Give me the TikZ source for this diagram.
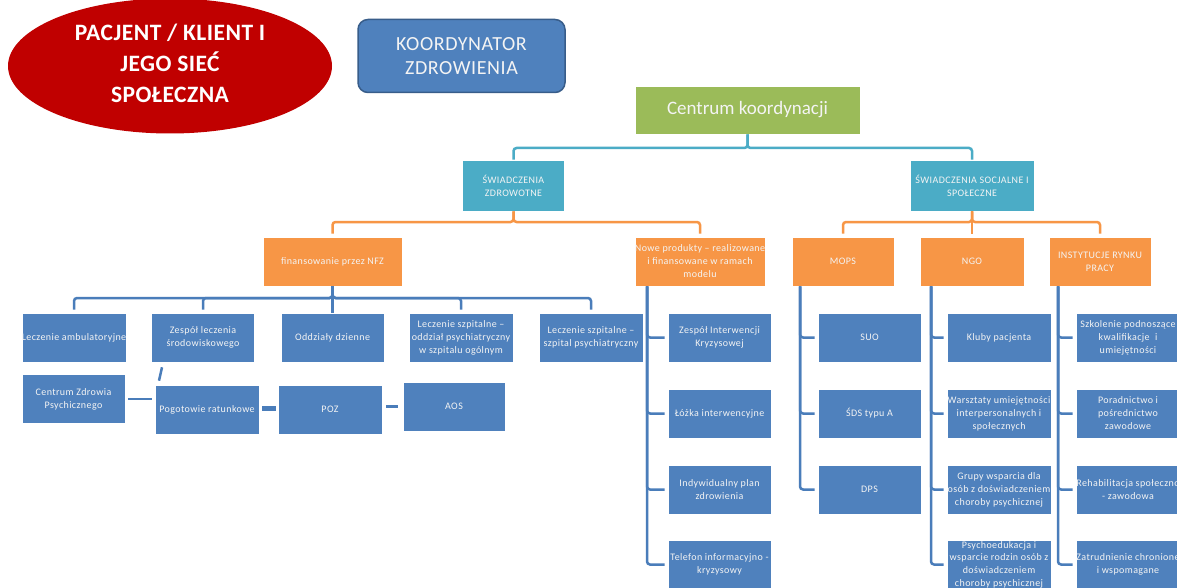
\documentclass[tikz,border=0pt]{standalone}
\usepackage{fontspec}
\setmainfont{Carlito}
\newfontfamily\boxfont[LetterSpace=4]{Carlito}
\newfontfamily\bigfont[LetterSpace=3]{Carlito}
\newfontfamily\elfont[LetterSpace=2]{Carlito}
\usetikzlibrary{shapes.geometric,calc}
\definecolor{bluebox}{HTML}{4F81BD}
\definecolor{blueedge}{HTML}{385D8A}
\definecolor{connblue}{HTML}{4A7DBA}
\definecolor{tealc}{HTML}{4BACC6}
\definecolor{orangec}{HTML}{F79646}
\definecolor{greenc}{HTML}{9BBB59}
\definecolor{redc}{HTML}{C00000}
\definecolor{txt}{HTML}{F4F4F4}
\tikzset{
  cb/.style={draw=white, line width=0.6pt, inner sep=0pt, align=center, text=txt,
    font=\boxfont\fontsize{10}{13}\selectfont},
  blueb/.style={cb, fill=bluebox, minimum width=103pt, minimum height=49pt},
  orangeb/.style={cb, fill=orangec, minimum height=49pt},
  tealb/.style={cb, fill=tealc, minimum height=51pt},
  bconn/.style={draw=connblue, line width=2.5pt, rounded corners=3pt},
  oconn/.style={draw=orangec, line width=2.5pt, rounded corners=3pt},
  tconn/.style={draw=tealc, line width=2.5pt, rounded corners=3pt},
}
\begin{document}
\begin{tikzpicture}[x=1pt,y=-1pt]
\useasboundingbox (0,0) rectangle (1177,588);
\clip (0,0) rectangle (1177,588);
\fill[white] (0,0) rectangle (1177,588);

% ellipse
\node[ellipse, fill=redc, minimum width=324pt, minimum height=135pt, inner sep=0pt] (pac) at (170,66) {};
\node[align=center, text=white, inner sep=0pt, font=\elfont\bfseries\fontsize{23.5}{31}\selectfont]
  (pactext) at (170,63) {PACJENT / KLIENT I\\JEGO SIEĆ\\SPOŁECZNA};

% coordinator
\node[draw=blueedge, line width=1.5pt, fill=bluebox, rounded corners=10pt, minimum width=207pt,
  minimum height=73pt, align=center, text=txt, inner sep=0pt,
  font=\bigfont\fontsize{20}{24}\selectfont] (koord) at (461.5,56) {KOORDYNATOR\\ZDROWIENIA};

% top
\node[cb, fill=greenc, minimum width=225pt, minimum height=48pt,
  font=\fontsize{19}{22}\selectfont] (centrum) at (747.5,110) {Centrum koordynacji};

\node[tealb, minimum width=102pt] (swz) at (513.5,185.5) {ŚWIADCZENIA\\ZDROWOTNE};
\node[tealb, minimum width=124pt] (sws) at (972,185.5) {ŚWIADCZENIA SOCJALNE I\\SPOŁECZNE};

\node[orangeb, minimum width=139pt] (nfz) at (332.5,261.5) {finansowanie przez NFZ};
\node[orangeb, minimum width=130pt] (nowe) at (700,261.5) {Nowe produkty – realizowane\\i finansowane w ramach\\modelu};
\node[orangeb, minimum width=102pt] (mops) at (843,261.5) {MOPS};
\node[orangeb, minimum width=104pt] (ngo) at (972,261.5) {NGO};
\node[orangeb, minimum width=102pt] (inst) at (1100,261.5) {INSTYTUCJE RYNKU\\PRACY};

% row 1
\node[blueb, minimum width=104pt] (lamb) at (74,337.5) {Leczenie ambulatoryjne};
\node[blueb] (zes) at (203,337.5) {Zespół leczenia\\środowiskowego};
\node[blueb] (odd) at (332.5,337.5) {Oddziały dzienne};
\node[blueb, minimum width=104pt] (szo) at (461,337.5) {Leczenie szpitalne –\\oddział psychiatryczny\\w szpitalu ogólnym};
\node[blueb, minimum width=104pt] (szp) at (591,337.5) {Leczenie szpitalne –\\szpital psychiatryczny};

% row 2
\node[blueb] (czp) at (73.5,399) {Centrum Zdrowia\\Psychicznego};
\node[blueb, minimum width=104pt] (pog) at (207,409.5) {Pogotowie ratunkowe};
\node[blueb, minimum width=104pt] (poz) at (330,409.5) {POZ};
\node[blueb, minimum width=102pt] (aos) at (454,406.5) {AOS};

% nowe produkty children
\node[blueb] (zik) at (719.5,337.5) {Zespół Interwencji\\Kryzysowej};
\node[blueb] (lozka) at (719.5,413.5) {Łóżka interwencyjne};
\node[blueb] (ipz) at (719.5,489.5) {Indywidualny plan\\zdrowienia};
\node[blueb] (tel) at (719.5,564.5) {Telefon informacyjno -\\kryzysowy};

% mops children
\node[blueb] (suo) at (869.5,337.5) {SUO};
\node[blueb] (sds) at (869.5,413.5) {ŚDS typu A};
\node[blueb] (dps) at (869.5,489.5) {DPS};

% ngo children
\node[blueb, minimum width=104pt] (kluby) at (999,337.5) {Kluby pacjenta};
\node[blueb, minimum width=104pt] (warsz) at (999,413.5) {Warsztaty umiejętności\\interpersonalnych i\\społecznych};
\node[blueb, minimum width=104pt] (grupy) at (999,489.5) {Grupy wsparcia dla\\osób z doświadczeniem\\choroby psychicznej};
\node[blueb, minimum width=104pt, font=\boxfont\fontsize{10}{12.6}\selectfont] (psycho) at (999,564.5) {Psychoedukacja i\\wsparcie rodzin osób z\\doświadczeniem\\choroby psychicznej};

% instytucje children
\node[blueb, minimum width=104pt] (szkol) at (1128,337.5) {Szkolenie podnoszące\\kwalifikacje\ \ i\\umiejętności};
\node[blueb, minimum width=104pt] (porad) at (1128,413.5) {Poradnictwo i\\pośrednictwo\\zawodowe};
\node[blueb, minimum width=104pt] (rehab) at (1128,489.5) {Rehabilitacja społeczno\\- zawodowa};
\node[blueb, minimum width=104pt] (zatr) at (1128,564.5) {Zatrudnienie chronione\\i wspomagane};

% teal connectors
\coordinate (tbus) at (747.5,148);
\draw[tconn] (centrum.south) -- (tbus) -| (swz.north);
\draw[tconn] (centrum.south) -- (tbus) -| (sws.north);

% orange connectors
\coordinate (obusl) at (513.5,222);
\draw[oconn] (swz.south) -- (obusl) -| ([yshift=3pt]nfz.north);
\draw[oconn] (swz.south) -- (obusl) -| ([yshift=3pt]nowe.north);
\coordinate (obusr) at (972,222);
\draw[oconn] (sws.south) -- (obusr) -| ([yshift=3pt]mops.north);
\draw[oconn] (sws.south) -- (obusr) -| ([yshift=3pt]ngo.north);
\draw[oconn] (sws.south) -- (obusr) -| ([yshift=3pt]inst.north);

% blue row 1 connectors
\coordinate (nfzbus) at (332.5,298);
\draw[bconn] (nfz.south) -- (nfzbus) -| ([yshift=3pt]lamb.north);
\draw[bconn] (nfz.south) -- (nfzbus) -| ([yshift=3pt]zes.north);
\draw[bconn] (nfz.south) -- (odd.north);
\draw[bconn] (nfz.south) -- (nfzbus) -| ([yshift=3pt]szo.north);
\draw[bconn] (nfz.south) -- (nfzbus) -| ([yshift=3pt]szp.north);

% trunks
\coordinate (nowex) at (647,0);
\coordinate (mopsx) at (800,0);
\coordinate (ngox) at (931,0);
\coordinate (instx) at (1058,0);
\foreach \c in {zik,lozka,ipz,tel}
  \draw[bconn] (nowe.south -| nowex) |- ([xshift=-3pt]\c.west);
\foreach \c in {suo,sds,dps}
  \draw[bconn] (mops.south -| mopsx) |- ([xshift=-3pt]\c.west);
\foreach \c in {kluby,warsz,grupy,psycho}
  \draw[bconn] (ngo.south -| ngox) |- ([xshift=-3pt]\c.west);
\foreach \c in {szkol,porad,rehab,zatr}
  \draw[bconn] (inst.south -| instx) |- ([xshift=-3pt]\c.west);

% row 2 links
\draw[bconn, rounded corners=0pt] ([xshift=3pt]czp.east) -- ([xshift=-3pt]czp.east -| pog.west);
\draw[draw=connblue, line width=4.5pt]
  ([xshift=3pt,yshift=1pt]pog.east) -- ([xshift=-2pt,yshift=1pt]poz.west);
\draw[bconn, rounded corners=0pt] ([xshift=4pt]poz.east |- aos.west) -- ([xshift=-5pt]aos.west);
\draw[bconn, rounded corners=0pt] ($(zes.south)+(-41,5)$) -- ($(pog.north)+(-48,-4)$);
\end{tikzpicture}
\end{document}
